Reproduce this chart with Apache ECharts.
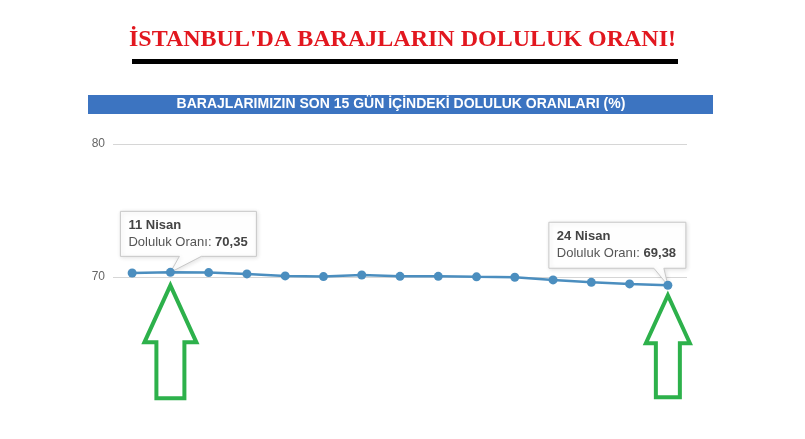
<!DOCTYPE html>
<html>
<head>
<meta charset="utf-8">
<script src="https://cdn.jsdelivr.net/npm/echarts@6/dist/echarts.min.js"></script>
<style>
  html, body { margin: 0; padding: 0; background: #fff; }
  #chart { width: 805px; height: 439px; }
</style>
</head>
<body>
<div id="chart"></div>
<script>
const days = ['10 Nisan', '11 Nisan', '12 Nisan', '13 Nisan', '14 Nisan', '15 Nisan', '16 Nisan', '17 Nisan',
  '18 Nisan', '19 Nisan', '20 Nisan', '21 Nisan', '22 Nisan', '23 Nisan', '24 Nisan']
const doluluk = [70.30, 70.35, 70.33, 70.23, 70.08, 70.03, 70.15, 70.05, 70.05, 70.01, 69.98, 69.78, 69.60, 69.48, 69.38]
const yTicks = [60, 70, 80]
// the two days that get a tooltip box and a green arrow
const marked = [1, 14]

const mainTitle = "İSTANBUL'DA BARAJLARIN DOLULUK ORANI!"
const subTitle = 'BARAJLARIMIZIN SON 15 GÜN İÇİNDEKİ DOLULUK ORANLARI (%)'

const chart = echarts.init(document.getElementById('chart'))

chart.setOption({
  animation: false,
  backgroundColor: '#fff',
  title: {
    text: mainTitle,
    left: 'center',
    top: 23,
    textStyle: {
      fontFamily: 'Liberation Serif',
      fontWeight: 'bold',
      fontSize: 24,
      color: '#e2171f'
    }
  },
  grid: {
    left: 113,
    right: 118,
    top: 144,
    bottom: 29
  },
  xAxis: {
    type: 'category',
    data: days,
    show: false
  },
  yAxis: {
    type: 'value',
    min: yTicks[0],
    max: yTicks[yTicks.length - 1],
    interval: yTicks[1] - yTicks[0],
    axisLine: { show: false },
    axisTick: { show: false },
    axisLabel: {
      showMinLabel: false,
      margin: 8,
      color: '#666',
      fontFamily: 'Liberation Sans',
      fontSize: 12
    },
    splitLine: {
      showMinLine: false,
      lineStyle: { color: '#d6d6d6', width: 1 }
    }
  },
  series: [
    {
      name: 'Doluluk Oranı',
      type: 'line',
      data: doluluk,
      symbol: 'circle',
      symbolSize: 9,
      lineStyle: { color: '#4b8ebf', width: 2.5 },
      itemStyle: { color: '#4b8ebf' }
    }
  ]
})

// tooltip boxes + arrows, placed from the data point pixel
const fmt = v => v.toFixed(2).replace('.', ',')
const boxes = [
  { dx: -50, dy: -61, w: 136, h: 45, p1: 9, p2: 31 },
  { dx: -119, dy: -63, w: 137, h: 46, p1: -14, p2: -4 }
]
const arrows = [
  { gap: 13, head: 57, len: 113, hw: 26, sw: 14 },
  { gap: 10, head: 48, len: 102, hw: 22, sw: 12 }
]

const graphics = [
  {
    type: 'rect',
    shape: { x: 132, y: 59, width: 546, height: 5 },
    style: { fill: '#000' }
  },
  {
    type: 'rect',
    shape: { x: 88, y: 95, width: 625, height: 19 },
    style: { fill: '#3c74c1' }
  },
  {
    type: 'text',
    x: 401,
    y: 104.5,
    style: {
      text: subTitle,
      fill: '#fff',
      font: 'bold 14px "Liberation Sans", Arial',
      align: 'center',
      verticalAlign: 'middle'
    }
  }
]

marked.forEach((idx, i) => {
  const [px, py] = chart.convertToPixel({ seriesIndex: 0 }, [idx, doluluk[idx]])
  const b = boxes[i]
  const l = px + b.dx, t = py + b.dy, r = l + b.w, bt = t + b.h
  graphics.push({
    type: 'polygon',
    shape: {
      points: [[l, t], [r, t], [r, bt], [px + b.p2, bt], [px, py], [px + b.p1, bt], [l, bt]]
    },
    style: {
      fill: 'rgba(255,255,255,0.95)',
      stroke: '#c8c8c8',
      lineWidth: 1,
      shadowBlur: 4,
      shadowOffsetX: 1,
      shadowOffsetY: 1,
      shadowColor: 'rgba(0,0,0,0.12)'
    }
  })
  graphics.push({
    type: 'text',
    x: l + 8,
    y: t + 14,
    style: {
      text: days[idx],
      fill: '#444',
      font: 'bold 13px "Liberation Sans", Arial',
      verticalAlign: 'middle'
    }
  })
  graphics.push({
    type: 'text',
    x: l + 8,
    y: t + 31,
    style: {
      text: '{a|Doluluk Oranı: }{b|' + fmt(doluluk[idx]) + '}',
      verticalAlign: 'middle',
      rich: {
        a: { fill: '#555', fontSize: 13, fontFamily: 'Liberation Sans' },
        b: { fill: '#444', fontSize: 13, fontWeight: 'bold', fontFamily: 'Liberation Sans' }
      }
    }
  })

  const a = arrows[i]
  const tip = py + a.gap, hb = tip + a.head, bot = tip + a.len
  graphics.push({
    type: 'polygon',
    shape: {
      points: [[px, tip], [px + a.hw, hb], [px + a.sw, hb], [px + a.sw, bot],
        [px - a.sw, bot], [px - a.sw, hb], [px - a.hw, hb]]
    },
    style: { fill: 'none', stroke: '#2db14b', lineWidth: 4, lineJoin: 'miter' }
  })
})

chart.setOption({ graphic: graphics })
</script>
</body>
</html>
